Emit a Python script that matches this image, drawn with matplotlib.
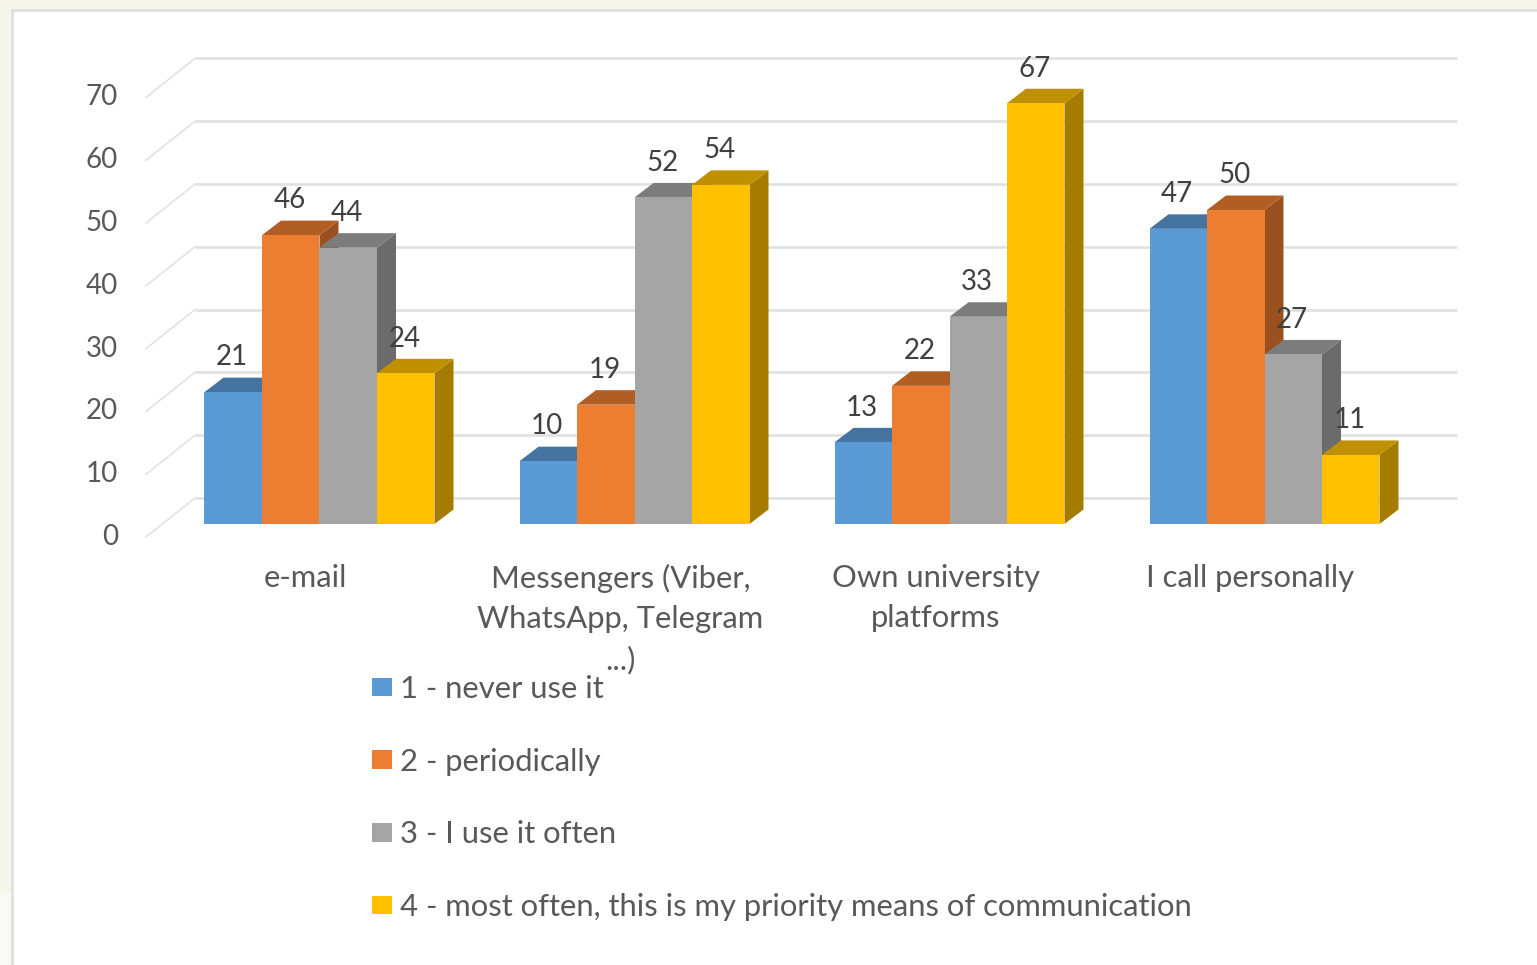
import matplotlib
matplotlib.use('Agg')
import matplotlib.pyplot as plt
from matplotlib.patches import Patch, Polygon, Rectangle

plt.rcParams['font.family'] = ['Lato', 'DejaVu Sans']

# values
categories = ['e-mail', 'Messengers (Viber,\nWhatsApp, Telegram\n...)', 'Own university\nplatforms', 'I call personally']
series_names = ['1 - never use it', '2 - periodically', '3 - I use it often', '4 - most often, this is my priority means of communication']
never_use = [21, 10, 13, 47]
periodically = [46, 19, 22, 50]
use_often = [44, 52, 33, 27]
most_often = [24, 54, 67, 11]
y_ticks = [0, 10, 20, 30, 40, 50, 60, 70]

series = [never_use, periodically, use_often, most_often]
front_colors = ['#5b9bd5', '#ed7d31', '#a5a5a5', '#ffc000']
top_colors = ['#44749f', '#b15e25', '#7c7c7c', '#bf9000']
side_colors = ['#3c6a94', '#9a511f', '#6b6b6b', '#a67c00']
text_color = '#595959'
grid_color = '#e2e2e2'

W, H = 1537, 965
X_UNIT, Y_UNIT = 315.0, 6.28   # pixels per category / per value
X0, Y0 = 319.5, 524.0          # pixel of first group centre / of value 0


def px(x):
    return (x - X0) / X_UNIT


def py(y):
    return (Y0 - y) / Y_UNIT


fig = plt.figure(figsize=(W / 100, H / 100), dpi=100, facecolor='#f5f5ea')
ax = fig.add_axes([0, 0, 1, 1])
ax.set_xlim(px(0), px(W))
ax.set_ylim(py(H), py(0))
ax.axis('off')

# white panel and the lighter strip bottom left
ax.add_patch(Rectangle((px(0), py(H)), px(12) - px(0), py(893) - py(H), fc='#fafaf5', ec='none'))
ax.add_patch(Rectangle((px(12), py(H + 5)), px(W + 5) - px(12), py(10) - py(H + 5), fc='white', ec='#dcdcdc', lw=1.8))

# walls: diagonal on the floor side, straight line along the back
wall_dy = 39 / Y_UNIT
for v in y_ticks:
    back = v + 26 / Y_UNIT
    ax.plot([px(146), px(195)], [back - wall_dy, back], color=grid_color, lw=1.2, zorder=1)
    ax.plot([px(195), px(1457)], [back, back], color=grid_color, lw=2.0, zorder=1, solid_capstyle='butt')
    ax.text(px(118), back - wall_dy, str(v), ha='right', va='center', fontsize=20, color=text_color)

# bars, drawn left to right so the nearer face covers the neighbour's side
bar_w = 57.5 / X_UNIT
depth_x = 19 / X_UNIT
depth_y = 14.5 / Y_UNIT
for g in range(len(categories)):
    for s, values in enumerate(series):
        v = values[g]
        x0 = g + (s - 2) * bar_w
        x1 = x0 + bar_w
        ax.add_patch(Polygon([(x1, 0), (x1 + depth_x, depth_y), (x1 + depth_x, v + depth_y), (x1, v)],
                             fc=side_colors[s], ec='none', zorder=2))
        ax.add_patch(Polygon([(x0, v), (x0 + depth_x, v + depth_y), (x1 + depth_x, v + depth_y), (x1, v)],
                             fc=top_colors[s], ec='none', zorder=2))
        ax.add_patch(Rectangle((x0, 0), bar_w, v, fc=front_colors[s], ec='none', zorder=2))
    for s, values in enumerate(series):
        x = g + (s - 1.5) * bar_w
        ax.annotate(str(values[g]), (x, values[g]), xytext=(-0.8, 25), textcoords='offset points',
                    ha='center', va='center', fontsize=20, color='#404040', zorder=5)
    ax.text(g - 14 / X_UNIT, py(564), categories[g], ha='center', va='top', fontsize=22.3,
            color=text_color, linespacing=1.53, zorder=5)

handles = [Patch(fc=c, ec='none') for c in front_colors]
ax.legend(handles, series_names, loc='upper left', bbox_to_anchor=(372 / W, 1 - 675 / H),
          frameon=False, fontsize=22.3, labelcolor=text_color, handlelength=0.64, handleheight=0.55,
          handletextpad=0.26, labelspacing=1.44, borderpad=0, borderaxespad=0)

fig.savefig('out.png', dpi=100, facecolor=fig.get_facecolor())
